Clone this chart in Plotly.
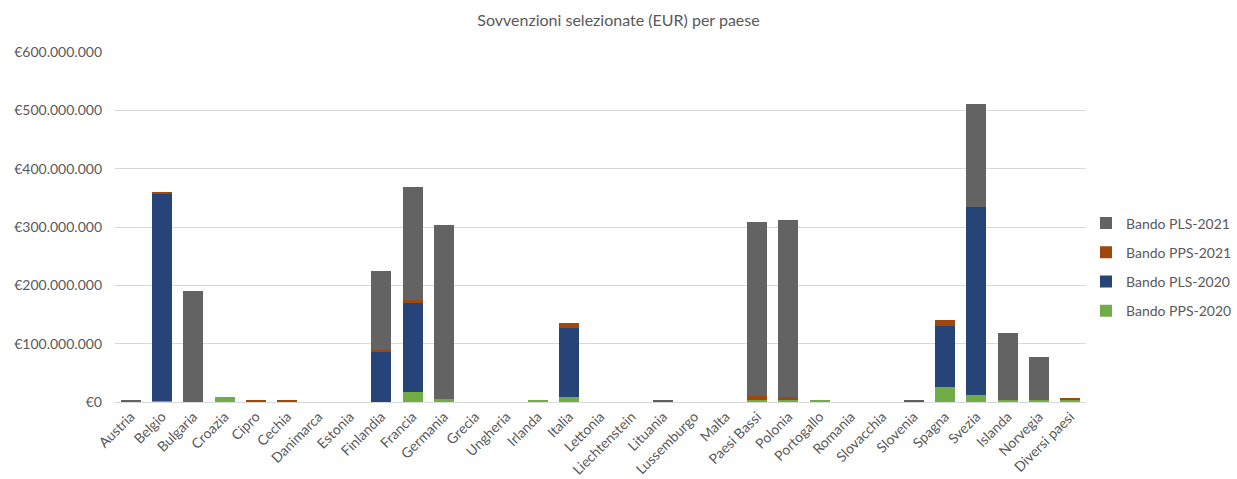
import plotly.graph_objects as go

paesi = ["Austria", "Belgio", "Bulgaria", "Croazia", "Cipro", "Cechia", "Danimarca", "Estonia",
         "Finlandia", "Francia", "Germania", "Grecia", "Ungheria", "Irlanda", "Italia", "Lettonia",
         "Liechtenstein", "Lituania", "Lussemburgo", "Malta", "Paesi Bassi", "Polonia", "Portogallo",
         "Romania", "Slovacchia", "Slovenia", "Spagna", "Svezia", "Islanda", "Norvegia", "Diversi paesi"]

# Importi in EUR per bando
pps_2020 = [1.5e6, 1.0e6, 0, 9.0e6, 0, 0, 0, 0,
            0, 17e6, 5.7e6, 0, 0, 3.4e6, 9e6, 0,
            0, 0, 0, 0, 3.4e6, 3.0e6, 3.4e6,
            0, 0, 0, 25e6, 11.4e6, 3e6, 3e6, 3.4e6]
pls_2020 = [0, 355e6, 0, 0, 0, 0, 0, 0,
            86e6, 152e6, 0, 0, 0, 0, 118e6, 0,
            0, 0, 0, 0, 0, 0, 0,
            0, 0, 0, 105e6, 323e6, 0, 0, 0]
pps_2021 = [0, 4.5e6, 0, 0, 3.5e6, 3.5e6, 0, 0,
            4e6, 6e6, 0, 0, 0, 0, 8e6, 0,
            0, 2e6, 0, 0, 7.5e6, 5e6, 0,
            0, 0, 2e6, 10.5e6, 0, 0, 0, 3.5e6]
pls_2021 = [0.5e6, 0, 190e6, 0, 0, 0, 0, 0,
            135e6, 193e6, 298e6, 0, 0, 0, 0, 0,
            0, 0.5e6, 0, 0, 297e6, 304e6, 0,
            0, 0, 0.5e6, 0, 177e6, 116e6, 75e6, 0]

# stacking order bottom -> top; legend lists them top -> bottom
series = [
    ("Bando PPS-2020", pps_2020, "#70AD47"),
    ("Bando PLS-2020", pls_2020, "#264478"),
    ("Bando PPS-2021", pps_2021, "#9E480E"),
    ("Bando PLS-2021", pls_2021, "#636363"),
]

FONT = "Lato, Calibri, sans-serif"
GREY_TXT = "#595959"

fig = go.Figure()
for i, (name, vals, col) in enumerate(series):
    fig.add_trace(go.Bar(
        x=paesi, y=vals, name=name, marker_color=col,
        marker_line_width=0, legendgroup=f"g{i}", legendrank=100 - i,
    ))

fig.update_layout(
    barmode="stack",
    bargap=0.36,
    width=1237, height=479,
    margin=dict(l=115, r=147, t=52, b=77),
    paper_bgcolor="white", plot_bgcolor="white",
    separators=",.",
    font=dict(family=FONT, size=14, color=GREY_TXT),
    title=dict(text="Sovvenzioni selezionate (EUR) per paese", x=0.5, xanchor="center",
               y=0.957, yanchor="middle",
               font=dict(size=16, color=GREY_TXT)),
    legend=dict(traceorder="grouped", xref="container", yref="container",
                x=1.0, xanchor="right", y=0.4426, yanchor="middle",
                font=dict(size=14, color=GREY_TXT), tracegroupgap=8,
                itemwidth=30),
    showlegend=True,
)
fig.update_yaxes(range=[0, 600e6], dtick=100e6, tickprefix="€", tickformat=",d",
                 showgrid=True, gridcolor="#D9D9D9", gridwidth=1, zeroline=False,
                 ticks="", ticklabelstandoff=12, automargin=False,
                 tickfont=dict(size=14, color=GREY_TXT))
fig.update_xaxes(tickangle=-45, showline=True, linecolor="#D9D9D9", linewidth=1,
                 ticks="", automargin=False, tickfont=dict(size=14, color=GREY_TXT))

fig.write_html("out.html")
